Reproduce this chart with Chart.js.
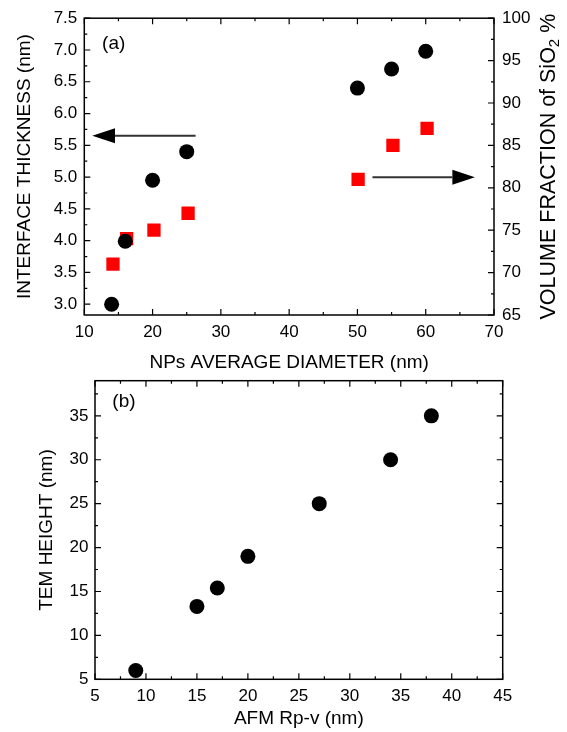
<!DOCTYPE html>
<html>
<head>
<meta charset="utf-8">
<script src="https://cdn.jsdelivr.net/npm/chart.js@4.4.0/dist/chart.umd.min.js"></script>
<style>
  body { margin: 0; background: #fff; width: 567px; height: 732px; overflow: hidden; position: relative; }
  canvas { position: absolute; left: 0; }
  #chartA { top: 0; }
  #chartB { top: 364px; }
</style>
</head>
<body>
<canvas id="chartA" width="567" height="374"></canvas>
<canvas id="chartB" width="567" height="368"></canvas>
<script>
// (a) interface thickness + SiO2 volume fraction vs NP diameter
const diamCircles = [14, 16, 20, 25, 50, 55, 60];
const thickness = [3.0, 3.99, 4.95, 5.4, 6.4, 6.7, 6.98];
const diamSquares = [14.2, 16.2, 20.2, 25.2, 50.1, 55.2, 60.2];
const volFraction = [71, 74, 75, 77, 81, 85, 87];
const diamTicks = [10, 20, 30, 40, 50, 60, 70];
const thickTicks = [3.0, 3.5, 4.0, 4.5, 5.0, 5.5, 6.0, 6.5, 7.0, 7.5];
const volTicks = [65, 70, 75, 80, 85, 90, 95, 100];

// (b) TEM height vs AFM Rp-v
const afmRpv = [9, 15, 17, 20, 27, 34, 38];
const temHeight = [6, 13.3, 15.4, 19, 25, 30, 35];
const afmTicks = [5, 10, 15, 20, 25, 30, 35, 40, 45];
const temTicks = [5, 10, 15, 20, 25, 30, 35];

const FAMILY = "'Liberation Sans', Arial, sans-serif";
const tickFont = { family: FAMILY, size: 17 };
const titleFont = { family: FAMILY, size: 19 };
const noGrid = { display: false, drawTicks: false, tickLength: 0 };

Chart.defaults.font.family = FAMILY;
Chart.defaults.color = '#000';

const setTicks = (list) => (scale) => { scale.ticks = list.map(v => ({ value: v })); };

// box round the plot, with inward major/minor ticks on all four sides
function tickMarks(scale, major, minor) {
  const out = [];
  const start = Math.ceil(scale.min / minor - 1e-6);
  for (let k = start; k * minor <= scale.max + 1e-6; k++) {
    const v = k * minor;
    const isMajor = Math.abs(v / major - Math.round(v / major)) < 1e-6;
    out.push([scale.getPixelForValue(v), isMajor ? 6 : 3]);
  }
  return out;
}

const framePlugin = {
  id: 'frame',
  afterDraw(chart, args, opts) {
    const { ctx, chartArea: a, scales } = chart;
    ctx.save();
    ctx.strokeStyle = '#000';
    ctx.lineWidth = 1.2;
    ctx.beginPath();
    tickMarks(scales.x, opts.x[0], opts.x[1]).forEach(([p, len]) => {
      ctx.moveTo(p, a.bottom); ctx.lineTo(p, a.bottom - len);
      ctx.moveTo(p, a.top); ctx.lineTo(p, a.top + len);
    });
    tickMarks(scales.y, opts.y[0], opts.y[1]).forEach(([p, len]) => {
      ctx.moveTo(a.left, p); ctx.lineTo(a.left + len, p);
    });
    const rs = scales[opts.rightScale];
    tickMarks(rs, opts.right[0], opts.right[1]).forEach(([p, len]) => {
      ctx.moveTo(a.right, p); ctx.lineTo(a.right - len, p);
    });
    ctx.stroke();
    ctx.lineWidth = 1.5;
    ctx.strokeRect(a.left, a.top, a.right - a.left, a.bottom - a.top);
    ctx.restore();
  }
};

// panel letter, placed in data units
const letterPlugin = {
  id: 'letter',
  afterDraw(chart, args, opts) {
    const { ctx, scales } = chart;
    ctx.save();
    ctx.font = '19px ' + FAMILY;
    ctx.fillStyle = '#000';
    ctx.textAlign = 'center';
    ctx.textBaseline = 'middle';
    ctx.fillText(opts.text, scales.x.getPixelForValue(opts.at[0]), scales.y.getPixelForValue(opts.at[1]));
    ctx.restore();
  }
};

// arrows telling which axis a series belongs to: [tail, head base, tip, y, yAxis]
const arrows = [
  [26.3, 14.5, 11.17, 5.65, 'y'],
  [52.2, 63.9, 67.2, 81.25, 'y2']
];

const arrowPlugin = {
  id: 'arrows',
  afterDraw(chart) {
    const { ctx, scales } = chart;
    ctx.save();
    arrows.forEach(([tail, base, tip, yv, axis]) => {
      const y = scales[axis].getPixelForValue(yv);
      const x0 = scales.x.getPixelForValue(tail);
      const x1 = scales.x.getPixelForValue(base);
      const x2 = scales.x.getPixelForValue(tip);
      ctx.strokeStyle = '#333';
      ctx.lineWidth = 2;
      ctx.beginPath();
      ctx.moveTo(x0, y); ctx.lineTo(x1, y);
      ctx.stroke();
      ctx.fillStyle = '#000';
      ctx.beginPath();
      ctx.moveTo(x2, y); ctx.lineTo(x1, y - 7.5); ctx.lineTo(x1, y + 7.5);
      ctx.closePath();
      ctx.fill();
    });
    ctx.restore();
  }
};

// right axis title reads bottom-to-top and has a subscript
const rightTitlePlugin = {
  id: 'rightTitle',
  afterDraw(chart) {
    const { ctx, chartArea: a } = chart;
    const main1 = 'VOLUME FRACTION of SiO';
    const sub = '2';
    const main2 = ' %';
    const big = '21.5px ' + FAMILY;
    const small = '15px ' + FAMILY;
    ctx.save();
    ctx.translate(547, (a.top + a.bottom) / 2);
    ctx.rotate(-Math.PI / 2);
    ctx.fillStyle = '#000';
    ctx.textBaseline = 'alphabetic';
    ctx.font = big;
    const w1 = ctx.measureText(main1).width;
    const w3 = ctx.measureText(main2).width;
    ctx.font = small;
    const w2 = ctx.measureText(sub).width;
    let x = -(w1 + w2 + w3) / 2;
    const base = 7.7;
    ctx.font = big;
    ctx.fillText(main1, x, base);
    x += w1;
    ctx.font = small;
    ctx.fillText(sub, x, base + 4.5);
    x += w2;
    ctx.font = big;
    ctx.fillText(main2, x, base);
    ctx.restore();
  }
};

new Chart(document.getElementById('chartA'), {
  type: 'scatter',
  data: {
    datasets: [
      {
        data: diamCircles.map((x, i) => ({ x: x, y: thickness[i] })),
        yAxisID: 'y',
        pointStyle: 'circle',
        pointRadius: 7.5,
        backgroundColor: '#000',
        borderWidth: 0
      },
      {
        data: diamSquares.map((x, i) => ({ x: x, y: volFraction[i] })),
        yAxisID: 'y2',
        pointStyle: 'rect',
        pointRadius: 9.4,
        backgroundColor: '#ff0000',
        borderWidth: 0
      }
    ]
  },
  options: {
    responsive: false,
    animation: false,
    events: [],
    layout: { padding: { top: 15.7, bottom: 0, left: 0, right: 0 } },
    plugins: {
      legend: { display: false },
      tooltip: { enabled: false },
      frame: { x: [10, 5], y: [0.5, 0.25], right: [5, 2.5], rightScale: 'y2' },
      letter: { text: '(a)', at: [14.3, 7.09] }
    },
    scales: {
      x: {
        type: 'linear', min: 10, max: 70,
        afterBuildTicks: setTicks(diamTicks),
        afterFit: (s) => { s.height = 59; },
        grid: noGrid, border: { display: false },
        ticks: { padding: 7, font: tickFont, maxRotation: 0 },
        title: { display: true, text: 'NPs AVERAGE DIAMETER (nm)', font: titleFont, padding: 0 }
      },
      y: {
        type: 'linear', position: 'left', min: 2.83, max: 7.5,
        afterBuildTicks: setTicks(thickTicks),
        afterFit: (s) => { s.width = 84.3; },
        grid: noGrid, border: { display: false },
        ticks: { padding: 7, font: tickFont, callback: (v) => Number(v).toFixed(1) },
        title: { display: true, text: 'INTERFACE THICKNESS (nm)', font: titleFont, padding: { top: 13.2, bottom: 0 } }
      },
      y2: {
        type: 'linear', position: 'right', min: 65, max: 100,
        afterBuildTicks: setTicks(volTicks),
        afterFit: (s) => { s.width = 73; },
        grid: noGrid, border: { display: false },
        ticks: { padding: 8, font: tickFont }
      }
    }
  },
  plugins: [framePlugin, letterPlugin, arrowPlugin, rightTitlePlugin]
});

new Chart(document.getElementById('chartB'), {
  type: 'scatter',
  data: {
    datasets: [{
      data: afmRpv.map((x, i) => ({ x: x, y: temHeight[i] })),
      pointStyle: 'circle',
      pointRadius: 7.5,
      backgroundColor: '#000',
      borderWidth: 0
    }]
  },
  options: {
    responsive: false,
    animation: false,
    events: [],
    layout: { padding: { top: 15.3, bottom: 0, left: 0, right: 64.3 } },
    plugins: {
      legend: { display: false },
      tooltip: { enabled: false },
      frame: { x: [5, 2.5], y: [5, 2.5], right: [5, 2.5], rightScale: 'y' },
      letter: { text: '(b)', at: [7.84, 36.58] }
    },
    scales: {
      x: {
        type: 'linear', min: 5, max: 45,
        afterBuildTicks: setTicks(afmTicks),
        afterFit: (s) => { s.height = 52.7; },
        grid: noGrid, border: { display: false },
        ticks: { padding: 7, font: tickFont, maxRotation: 0 },
        title: { display: true, text: 'AFM Rp-v (nm)', font: titleFont, padding: { top: 0, bottom: 2.3 } }
      },
      y: {
        type: 'linear', position: 'left', min: 5, max: 39,
        afterBuildTicks: setTicks(temTicks),
        afterFit: (s) => { s.width = 95; },
        grid: noGrid, border: { display: false },
        ticks: { padding: 6.5, font: tickFont },
        title: { display: true, text: 'TEM HEIGHT (nm)', font: titleFont, padding: { top: 35.6, bottom: 0 } }
      }
    }
  },
  plugins: [framePlugin, letterPlugin]
});
</script>
</body>
</html>
